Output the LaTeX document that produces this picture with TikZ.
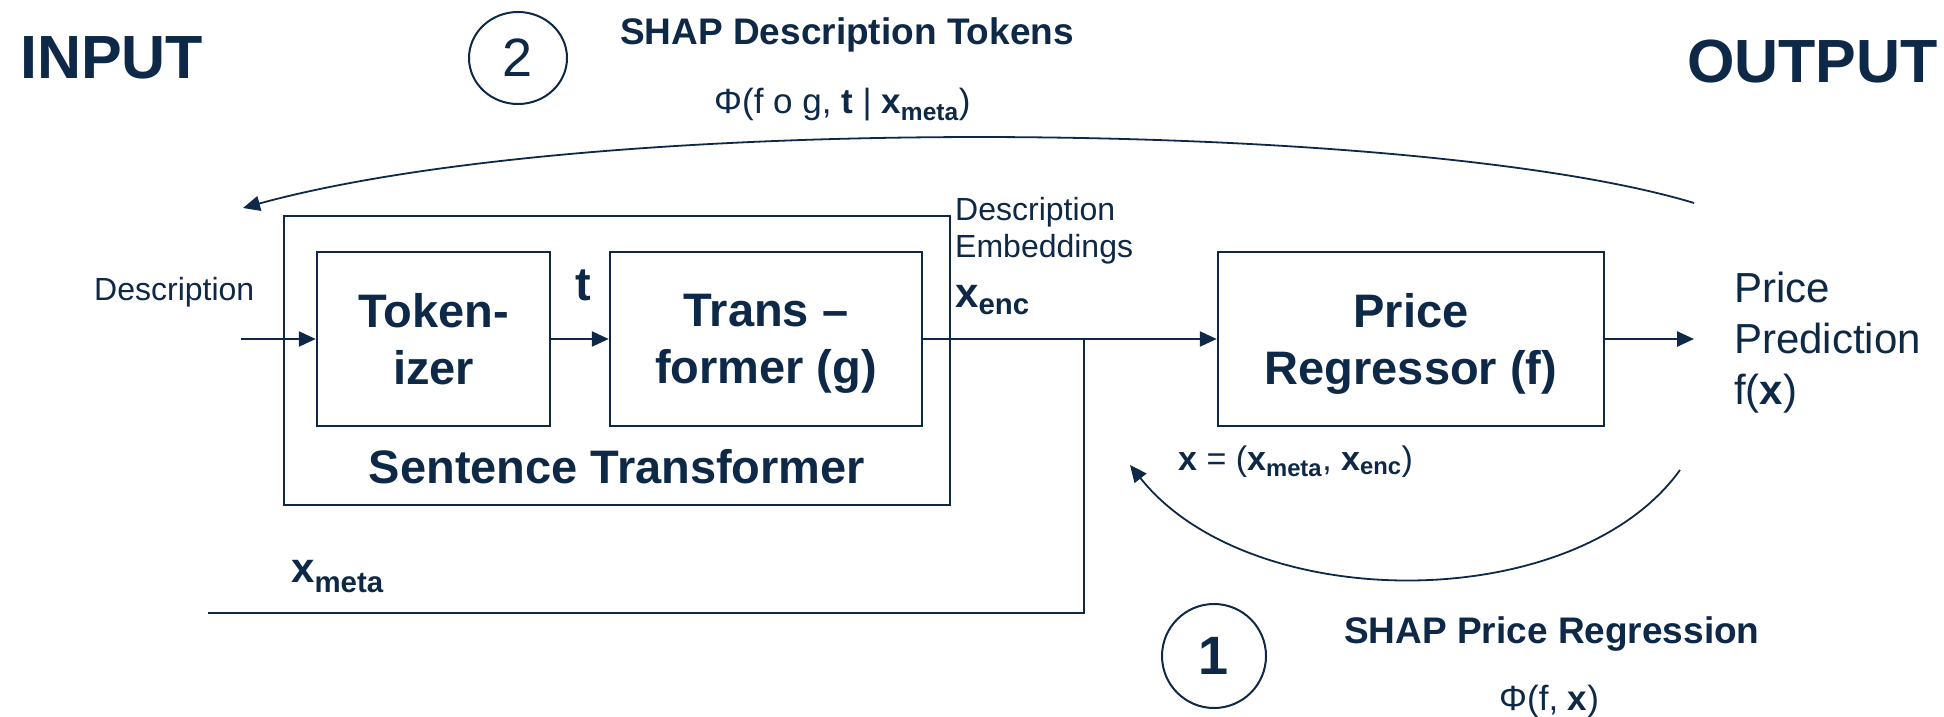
\documentclass[tikz,border=0pt]{standalone}
\usepackage{fontspec}
\setmainfont{Liberation Sans}
\usetikzlibrary{arrows.meta,shapes.geometric}
\definecolor{navy}{RGB}{14,41,71}

\begin{document}
\begin{tikzpicture}[x=1pt,y=-1pt,color=navy,
    every node/.style={inner sep=0pt},
    box/.style={draw,line width=2.5pt,align=center,text depth=0pt,
      font=\fontsize{47}{57}\selectfont\bfseries},
    arr/.style={line width=2.5pt,-{Triangle[length=17pt,width=15pt]}},
    wire/.style={line width=1.8pt},
    bendarr/.style={line width=1.8pt,-{Triangle[length=17pt,width=15pt]}},
    bigtext/.style={font=\fontsize{61}{70}\selectfont\bfseries},
    headtext/.style={font=\fontsize{37}{44}\selectfont\bfseries},
    formulatext/.style={font=\fontsize{35}{42}\selectfont},
    labeltext/.style={font=\fontsize{32}{37}\selectfont}]
  \path[fill=white,use as bounding box] (0,0) rectangle (1944,717);
  \node[bigtext,anchor=base west] (input) at (20,78) {INPUT};
  \node[bigtext,anchor=base east] (output) at (1938,82) {OUTPUT};
  \node[draw,ellipse,line width=2pt,minimum width=98pt,minimum height=92pt,
    font=\fontsize{54}{60}\selectfont] (two) at (518,58) {2};
  \node[headtext,anchor=base west] (tokenshead) at (620,45) {SHAP Description Tokens};
  \node[formulatext,anchor=base west] (tokensphi) at (714,113)
    {Φ(f o g, \textbf{t} | \textbf{x}\textsubscript{\textbf{meta}})};
  \node[box,minimum width=666pt,minimum height=289pt] (sentence) at (617,360.5) {};
  \node[box,minimum width=233pt,minimum height=174pt] (tokenizer) at (433.5,339) {Token-\\izer};
  \node[box,minimum width=312pt,minimum height=174pt] (transformer) at (766,339) {Trans –\\former (g)};
  \node[box,minimum width=386pt,minimum height=174pt] (regressor) at (1411,339) {Price\\Regressor (f)};
  \node[font=\fontsize{47}{57}\selectfont\bfseries,anchor=base] (sentencename) at (617,483) {Sentence Transformer};
  \node[labeltext,anchor=base west] (desclabel) at (94,300) {Description};
  \node[font=\fontsize{47}{57}\selectfont\bfseries,anchor=base] (tlabel) at (583,300) {t};
  \node[labeltext,align=left,anchor=north west] (emblabel) at (955,197) {Description\\Embeddings};
  \node[font=\fontsize{42}{50}\selectfont,anchor=base west] (enclabel) at (955,307)
    {\textbf{x}\textsubscript{\textbf{enc}}};
  \node[font=\fontsize{42}{51}\selectfont,align=left,anchor=north west] (pricelabel) at (1734,272)
    {Price\\Prediction\\f(\textbf{x})};
  \node[font=\fontsize{34}{40}\selectfont,anchor=base west] (xlabel) at (1178,470)
    {\textbf{x} = (\textbf{x}\textsubscript{\textbf{meta}}, \textbf{x}\textsubscript{\textbf{enc}})};
  \node[font=\fontsize{42}{50}\selectfont,anchor=base west] (metalabel) at (291,582)
    {\textbf{x}\textsubscript{\textbf{meta}}};
  \node[draw,circle,line width=2pt,minimum size=104pt,
    font=\fontsize{54}{60}\selectfont\bfseries] (one) at (1214,656) {1};
  \node[headtext,anchor=base west] (pricehead) at (1344,643) {SHAP Price Regression};
  \node[formulatext,anchor=base west] (pricephi) at (1499,710) {Φ(f, \textbf{x})};
  \coordinate (descin) at (241,339);
  \coordinate (split) at (1084,339);
  \coordinate (metain) at (208,613);
  \coordinate (priceout) at (1694,339);
  \coordinate (topstart) at (1694,203);
  \coordinate (topend) at (243,208);
  \coordinate (lowstart) at (1680,470);
  \coordinate (lowend) at (1130,465);
  \draw[arr] (descin) -- (tokenizer);
  \draw[arr] (tokenizer) -- (transformer);
  \draw[arr] (transformer) -- (regressor);
  \draw[wire] (metain) -| (split);
  \draw[arr] (regressor) -- (priceout);
  \draw[bendarr] (topstart) .. controls (1420,120) and (600,110) .. (topend);
  \draw[bendarr] (lowstart) .. controls (1575,616) and (1250,616) .. (lowend);
\end{tikzpicture}
\end{document}
